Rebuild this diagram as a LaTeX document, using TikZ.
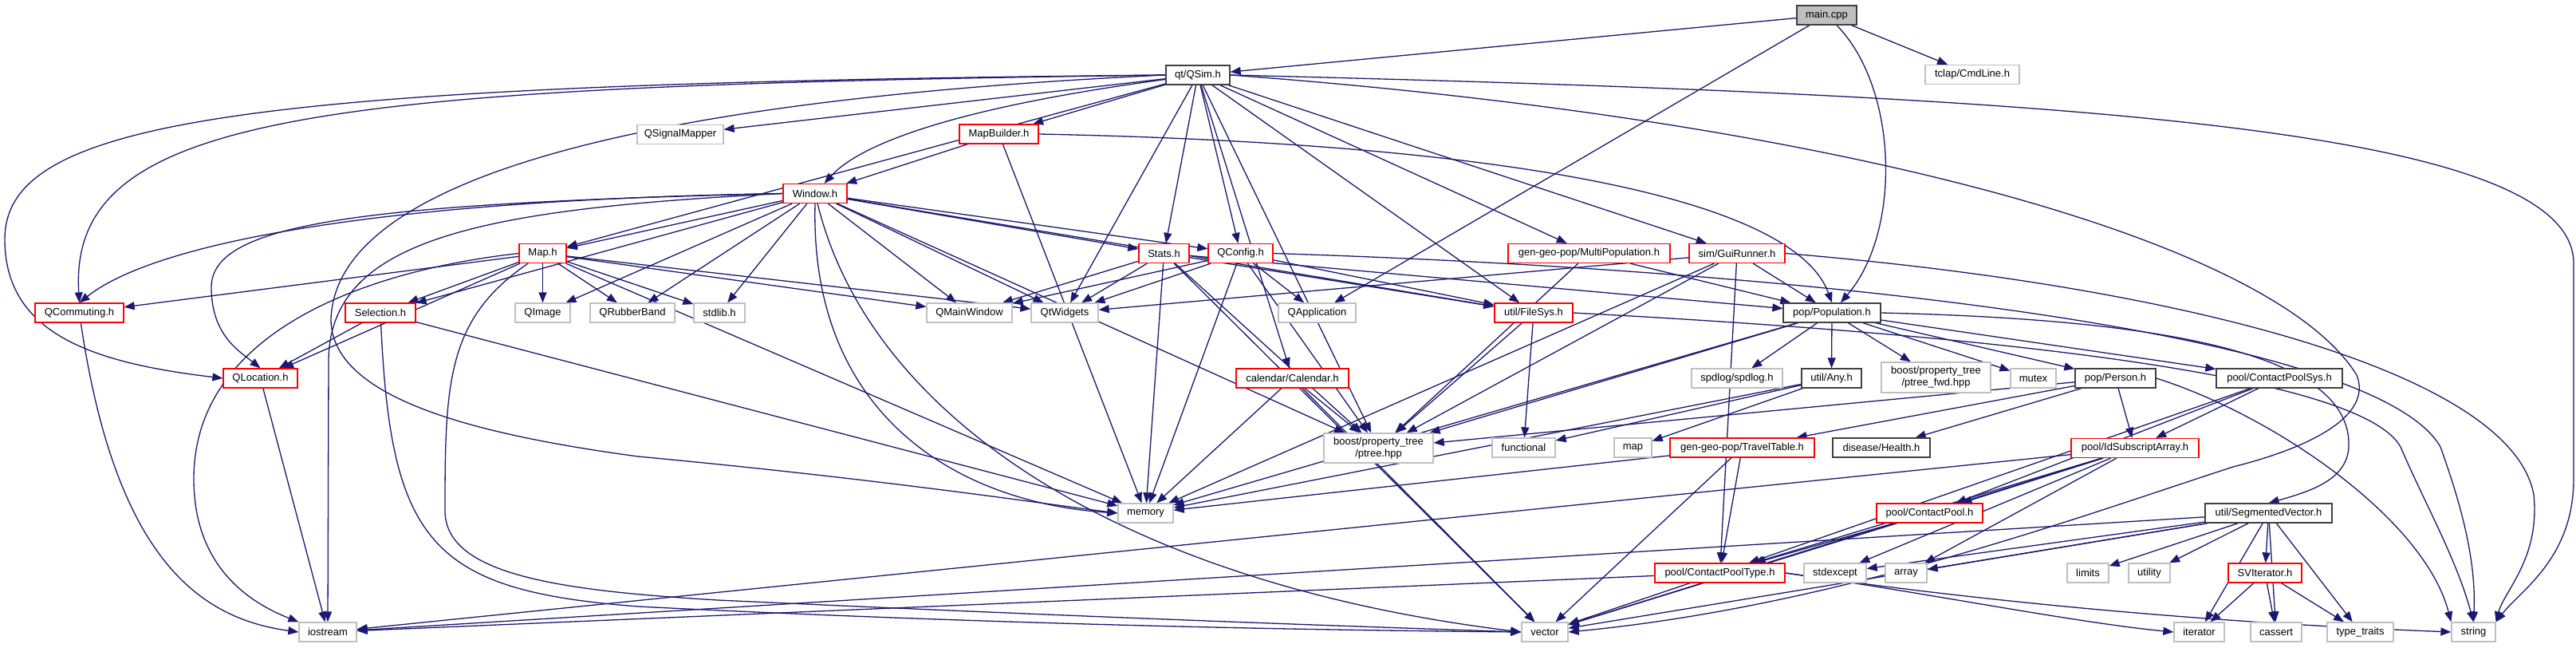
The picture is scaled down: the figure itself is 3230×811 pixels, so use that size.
\documentclass[tikz,border=0pt]{standalone}
\usepackage{fontspec}
\setmainfont{Liberation Sans}
\usetikzlibrary{arrows.meta,backgrounds}
\definecolor{edgeblue}{HTML}{191970}
\definecolor{nodegray}{HTML}{BFBFBF}
\definecolor{docborder}{HTML}{404040}
\begin{document}
\begin{tikzpicture}[x=1pt,y=-1pt,
  nbase/.style={draw, line width=1.3pt, fill=white, inner sep=0pt, minimum height=24pt, font=\fontsize{13}{15}\selectfont, align=center},
  ext/.style={nbase, draw=nodegray},
  doc/.style={nbase, draw=docborder},
  trunc/.style={nbase, draw=red},
  root/.style={nbase, draw=docborder, fill=nodegray},
  edge/.style={draw=edgeblue, line width=1.3pt, -{Triangle[length=13pt,width=10pt]}},
]
\useasboundingbox (0,0) rectangle (3230,811);
% row 0-1
\node[root, minimum width=75pt] (main) at (2290.5,19) {main.cpp};
\node[ext, minimum width=118pt] (cmdline) at (2473,93.5) {tclap/CmdLine.h};
\node[doc, minimum width=80pt] (qsim) at (1502,94) {qt/QSim.h};
% row 2
\node[ext, minimum width=108pt] (qsigmap) at (853,168.5) {QSignalMapper};
\node[trunc, minimum width=99pt] (mapbuilder) at (1252.5,168) {MapBuilder.h};
% row 3
\node[trunc, minimum width=80pt] (window) at (1022,242.5) {Window.h};
% row 4
\node[trunc, minimum width=59pt] (maph) at (680.5,317.5) {Map.h};
\node[trunc, minimum width=63pt] (stats) at (1459.5,317.5) {Stats.h};
\node[trunc, minimum width=81pt] (qconfig) at (1555.5,317.5) {QConfig.h};
\node[trunc, minimum width=203pt] (multipop) at (1992.5,317.5) {gen-geo-pop/MultiPopulation.h};
\node[trunc, minimum width=120pt] (guirunner) at (2178,317.5) {sim/GuiRunner.h};
% row 5
\node[trunc, minimum width=111pt] (qcommuting) at (99.5,392) {QCommuting.h};
\node[trunc, minimum width=88pt] (selection) at (477,392) {Selection.h};
\node[ext, minimum width=69pt] (qimage) at (680.5,392) {QImage};
\node[ext, minimum width=106pt] (qrubber) at (793,392) {QRubberBand};
\node[ext, minimum width=64pt] (stdlib) at (902,392) {stdlib.h};
\node[ext, minimum width=107pt] (qmainwin) at (1215.5,392) {QMainWindow};
\node[ext, minimum width=84pt] (qtwidgets) at (1335,392) {QtWidgets};
\node[ext, minimum width=97pt] (qapp) at (1651.5,392) {QApplication};
\node[trunc, minimum width=98pt] (filesys) at (1923,392) {util/FileSys.h};
\node[doc, minimum width=122pt] (population) at (2297,392) {pop/Population.h};
% row 6
\node[trunc, minimum width=93pt] (qlocation) at (326.5,474) {QLocation.h};
\node[trunc, minimum width=141pt] (calendar) at (1620.5,474) {calendar/Calendar.h};
\node[ext, minimum width=114pt] (spdlog) at (2178,474) {spdlog/spdlog.h};
\node[doc, minimum width=75pt] (any) at (2296.5,474) {util/Any.h};
\node[ext, minimum width=137pt, minimum height=38pt] (ptreefwd) at (2427.5,473) {boost/property\_tree\\/ptree\_fwd.hpp};
\node[ext, minimum width=57pt] (mutex) at (2549.5,474) {mutex};
\node[doc, minimum width=101pt] (person) at (2652.5,474) {pop/Person.h};
\node[doc, minimum width=158pt] (cpsys) at (2858,474) {pool/ContactPoolSys.h};
% row 7
\node[ext, minimum width=137pt, minimum height=37pt] (ptreehpp) at (1728.5,561.5) {boost/property\_tree\\/ptree.hpp};
\node[ext, minimum width=79pt] (functional) at (1910.5,561) {functional};
\node[ext, minimum width=47pt] (mapstd) at (2047.5,561) {map};
\node[trunc, minimum width=181pt] (travel) at (2184.5,561) {gen-geo-pop/TravelTable.h};
\node[doc, minimum width=122pt] (health) at (2359,561) {disease/Health.h};
\node[trunc, minimum width=160pt] (idsub) at (2677,561.5) {pool/IdSubscriptArray.h};
% row 8
\node[ext, minimum width=69pt] (memory) at (1436.5,643) {memory};
\node[trunc, minimum width=133pt] (cpool) at (2419.5,643) {pool/ContactPool.h};
\node[doc, minimum width=159pt] (segvec) at (2844.5,643) {util/SegmentedVector.h};
% row 9
\node[trunc, minimum width=163pt] (cptype) at (2156.5,718) {pool/ContactPoolType.h};
\node[ext, minimum width=78pt] (stdexcept) at (2301,718) {stdexcept};
\node[ext, minimum width=52pt] (array) at (2390,718) {array};
\node[ext, minimum width=52pt] (limits) at (2618,718) {limits};
\node[ext, minimum width=52pt] (utility) at (2695,718) {utility};
\node[trunc, minimum width=92pt] (sviter) at (2840,718) {SVIterator.h};
% row 10
\node[ext, minimum width=72pt] (iostream) at (411,792) {iostream};
\node[ext, minimum width=58pt] (vector) at (1937,792) {vector};
\node[ext, minimum width=63pt] (iterator) at (2757.5,792) {iterator};
\node[ext, minimum width=64pt] (cassert) at (2854,792) {cassert};
\node[ext, minimum width=83pt] (typetraits) at (2959.5,792) {type\_traits};
\node[ext, minimum width=55pt] (string) at (3101.5,792) {string};

\begin{pgfonlayer}{background}
\fill[white] (0,0) rectangle (3230,811);
% main.cpp
\foreach \t in {qsim,cmdline,qapp} \draw[edge] (main) -- (\t);
\draw[edge] (main) .. controls (2380,110) and (2385,290) .. (population);
% qt/QSim.h
\foreach \t in {qsigmap,mapbuilder,maph,qtwidgets,stats,qconfig,calendar,ptreehpp,filesys,multipop,guirunner} \draw[edge] (qsim) -- (\t);
\draw[edge] (qsim) .. controls (1160,140) and (1070,190) .. (window);
\draw[edge] (qsim.west) .. controls (400,108) and (85,140) .. (qcommuting.north);
\draw[edge] (qsim.west) .. controls (300,105) and (6,150) .. (6,300) .. controls (6,420) and (120,455) .. (qlocation.west);
\draw[edge] (qsim.west) .. controls (700,130) and (420,250) .. (415,400) .. controls (415,500) and (600,545) .. (800,572) .. controls (1100,600) and (1300,630) .. (memory.west);
\draw[edge] (qsim.east) .. controls (2600,120) and (3227,160) .. (3227,330) -- (3227,600) .. controls (3227,700) and (3160,740) .. (string.north east);
\draw[edge] (qsim.east) .. controls (2300,150) and (2850,300) .. (2955,470) .. controls (2975,520) and (2900,560) .. (2800,585) .. controls (2600,650) and (2300,760) .. (vector.east);
% MapBuilder.h
\foreach \t in {window,memory} \draw[edge] (mapbuilder) -- (\t);
\draw[edge] (mapbuilder.east) .. controls (1900,180) and (2250,250) .. (population.north);
% Window.h
\foreach \t in {maph,selection,qimage,qrubber,stdlib,qmainwin,qtwidgets,stats,qconfig,filesys,ptreehpp} \draw[edge] (window) -- (\t);
\draw[edge] (window.west) .. controls (500,250) and (200,300) .. (qcommuting.north);
\draw[edge] (window.west) .. controls (450,255) and (265,280) .. (265,360) .. controls (265,420) and (300,440) .. (qlocation.north);
\draw[edge] (window.south) .. controls (1015,520) and (1200,630) .. (memory.west);
\draw[edge] (window) .. controls (1090,520) and (1400,730) .. (vector.west);
\draw[edge] (window.west) .. controls (600,262) and (415,300) .. (412,450) -- (iostream.north);
% Map.h
\foreach \t in {qcommuting,selection,qlocation,qimage,qrubber,qmainwin,qtwidgets,memory,stdlib} \draw[edge] (maph) -- (\t);
\draw[edge] (maph.west) .. controls (450,340) and (243,420) .. (243,600) .. controls (243,700) and (300,750) .. (iostream.north west);
\draw[edge] (maph) .. controls (560,400) and (558,480) .. (558,640) .. controls (558,720) and (700,740) .. (900,752) .. controls (1400,775) and (1700,785) .. (vector.west);
% Selection.h
\foreach \t in {qlocation,memory} \draw[edge] (selection) -- (\t);
\draw[edge] (selection) .. controls (490,680) and (540,740) .. (800,760) .. controls (1300,785) and (1700,790) .. (vector.west);
\draw[edge] (qcommuting) .. controls (145,700) and (250,775) .. (iostream.west);
\draw[edge] (qlocation) -- (iostream);
% Stats.h
\foreach \t in {qmainwin,qtwidgets,memory,vector,ptreehpp,filesys,population} \draw[edge] (stats) -- (\t);
% QConfig.h
\foreach \t in {qmainwin,qtwidgets,qapp,memory,ptreehpp,filesys} \draw[edge] (qconfig) -- (\t);
\draw[edge] (qconfig.east) .. controls (2300,340) and (2980,420) .. (3060,560) .. controls (3085,630) and (3105,700) .. (string.north);
% Calendar.h
\foreach \t in {ptreehpp,memory,vector} \draw[edge] (calendar) -- (\t);
% FileSys.h
\foreach \t in {ptreehpp,functional} \draw[edge] (filesys) -- (\t);
\draw[edge] (filesys.east) .. controls (2500,420) and (2960,470) .. (3010,560) .. controls (3040,630) and (3080,700) .. (string.north);
% MultiPopulation.h
\foreach \t in {population,ptreehpp} \draw[edge] (multipop) -- (\t);
% GuiRunner.h
\foreach \t in {population,qtwidgets,memory,ptreehpp,cptype} \draw[edge] (guirunner) -- (\t);
\draw[edge] (guirunner.east) .. controls (2750,360) and (3150,470) .. (3177,620) .. controls (3185,700) and (3140,740) .. (string.north east);
% Population.h
\foreach \t in {spdlog,any,ptreefwd,mutex,person,cpsys,ptreehpp,memory} \draw[edge] (population) -- (\t);
\draw[edge] (population.east) .. controls (2700,400) and (2950,440) .. (2945,560) .. controls (2943,600) and (2900,615) .. (segvec.north);
% Any.h
\foreach \t in {memory,mapstd,functional} \draw[edge] (any) -- (\t);
% Person.h
\foreach \t in {travel,health,idsub,ptreehpp} \draw[edge] (person) -- (\t);
\draw[edge] (person.east) .. controls (2850,520) and (3040,650) .. (string.north west);
% ContactPoolSys.h
\foreach \t in {idsub,cpool,cptype} \draw[edge] (cpsys) -- (\t);
% TravelTable.h
\foreach \t in {cptype,vector,memory} \draw[edge] (travel) -- (\t);
% IdSubscriptArray.h
\foreach \t in {cpool,cptype,vector,iostream,stdexcept,array} \draw[edge] (idsub) -- (\t);
% ContactPool.h
\foreach \t in {cptype,vector} \draw[edge] (cpool) -- (\t);
% ContactPoolType.h
\foreach \t in {vector,iostream} \draw[edge] (cptype) -- (\t);
\draw[edge] (cptype.east) .. controls (2400,740) and (2600,780) .. (iterator.west);
\draw[edge] (cptype.east) .. controls (2600,770) and (2900,785) .. (string.west);
% SegmentedVector.h
\foreach \t in {sviter,stdexcept,array,limits,utility,iterator,cassert,typetraits,vector,iostream} \draw[edge] (segvec) -- (\t);
% SVIterator.h
\foreach \t in {iterator,cassert,typetraits} \draw[edge] (sviter) -- (\t);
\end{pgfonlayer}
\end{tikzpicture}
\end{document}
